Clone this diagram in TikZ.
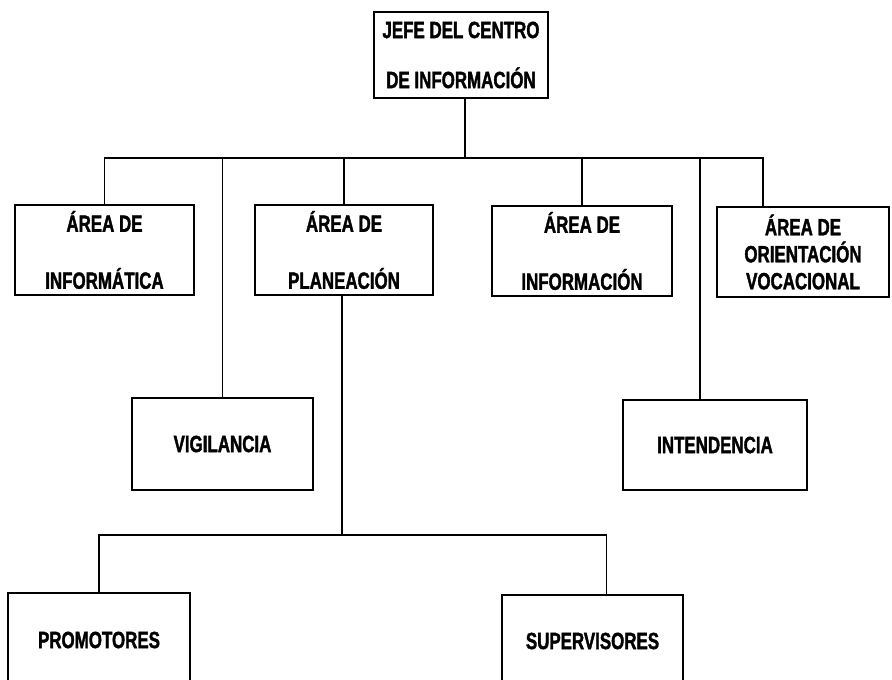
\documentclass[tikz,border=0pt]{standalone}
\usepackage{fontspec}
\newfontfamily\orgfont{Liberation Sans}[FakeStretch=0.72,FakeBold=1.5]
\begin{document}
\begin{tikzpicture}[x=1pt,y=-1pt,
  box/.style={draw, line width=2.2pt, rectangle, inner sep=0pt, align=center,
    font=\orgfont\bfseries\fontsize{23.5}{57}\selectfont},
  conn/.style={line width=1.3pt}]
\useasboundingbox (0,0) rectangle (892,680);
\clip (0,0) rectangle (892,680);
\node[box, minimum width=174pt, minimum height=86pt, font=\orgfont\bfseries\fontsize{23.5}{50}\selectfont]
  (jefe) at (461,55) {JEFE DEL CENTRO\\DE INFORMACIÓN};
\node[box, minimum width=179pt, minimum height=90pt] (inf) at (104.5,250) {ÁREA DE\\INFORMÁTICA};
\node[box, minimum width=178pt, minimum height=90pt] (plan) at (344,250) {ÁREA DE\\PLANEACIÓN};
\node[box, minimum width=180pt, minimum height=90pt] (info) at (582,251) {ÁREA DE\\INFORMACIÓN};
\node[box, minimum width=172pt, minimum height=90pt, font=\orgfont\bfseries\fontsize{23.5}{27}\selectfont]
  (orient) at (803,252) {ÁREA DE\\ORIENTACIÓN\\VOCACIONAL};
\node[box, minimum width=181pt, minimum height=92pt] (vig) at (222.5,444) {VIGILANCIA};
\node[box, minimum width=184pt, minimum height=90pt] (intend) at (715,445) {INTENDENCIA};
\node[box, minimum width=182pt, minimum height=94pt] (prom) at (99,640) {PROMOTORES};
\node[box, minimum width=181pt, minimum height=92pt] (sup) at (592.5,641) {SUPERVISORES};
\coordinate (b1) at (465,158);
\draw[conn] (jefe.south -| b1) -- (b1);
\draw[conn] (inf.north) |- ([xshift=-40pt]orient.north |- b1) -- ([xshift=-40pt]orient.north);
\draw[conn] (vig.north) -- (vig.north |- b1);
\draw[conn] (plan.north) -- (plan.north |- b1);
\draw[conn] (info.north) -- (info.north |- b1);
\draw[conn] ([xshift=-15pt]intend.north) -- ([xshift=-15pt]intend.north |- b1);
\coordinate (b2) at (342,535);
\draw[conn] (plan.south -| b2) -- (b2);
\draw[conn] (prom.north) |- ([xshift=14pt]sup.north |- b2) -- ([xshift=14pt]sup.north);
\end{tikzpicture}
\end{document}
